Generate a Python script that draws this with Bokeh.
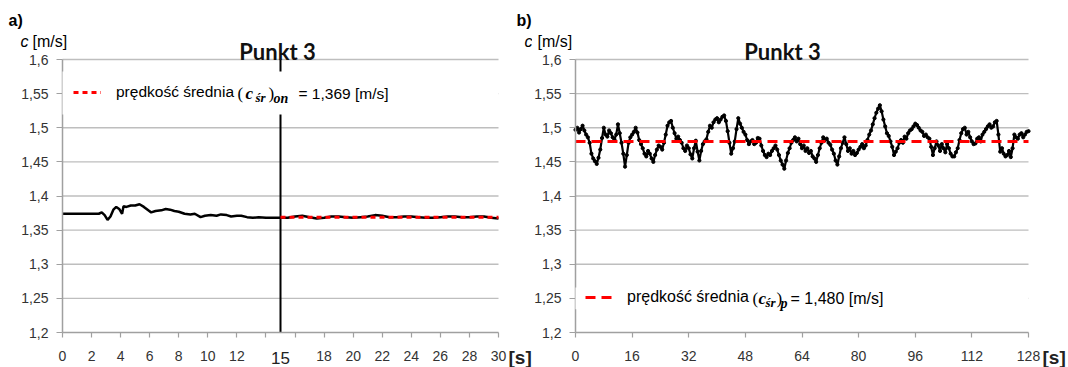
from bokeh.plotting import figure
from bokeh.layouts import row
from bokeh.models import FixedTicker, BoxAnnotation, Label, Legend, LegendItem, Range1d, LinearAxis
from bokeh.embed import file_html
from bokeh.resources import INLINE

# ---------------- data ----------------
t_a = [0, 0.5, 1, 1.5, 2, 2.5, 2.7, 2.9, 3.1, 3.3,
       3.5, 3.7, 3.9, 4.1, 4.2, 4.4, 4.7, 5.0, 5.3, 5.6,
       5.9, 6.1, 6.4, 6.8, 7.1, 7.4, 7.7, 8.0, 8.4, 8.8,
       9.1, 9.5, 9.8, 10.2, 10.6, 10.9, 11.3, 11.6, 12.0, 12.3,
       12.7, 13.1, 13.5, 14.0, 14.5, 15.0, 15.5, 16.0, 16.5, 17.0,
       17.5, 18.0, 18.5, 19.0, 19.5, 20.0, 20.5, 21.0, 21.5, 22.0,
       22.5, 23.0, 23.5, 24.0, 24.5, 25.0, 25.5, 26.0, 26.5, 27.0,
       27.5, 28.0, 28.5, 29.0, 29.5, 30.0]
c_a = [1.374, 1.374, 1.374, 1.374, 1.374, 1.374, 1.376, 1.372, 1.365, 1.370,
       1.380, 1.384, 1.381, 1.374, 1.385, 1.384, 1.386, 1.386, 1.388, 1.384,
       1.379, 1.376, 1.378, 1.379, 1.381, 1.380, 1.378, 1.377, 1.374, 1.373,
       1.374, 1.369, 1.371, 1.372, 1.371, 1.373, 1.372, 1.370, 1.371, 1.371,
       1.369, 1.368, 1.369, 1.368, 1.368, 1.368, 1.368, 1.370, 1.371, 1.369,
       1.367, 1.368, 1.370, 1.370, 1.369, 1.368, 1.369, 1.370, 1.372, 1.371,
       1.369, 1.369, 1.370, 1.370, 1.369, 1.368, 1.368, 1.369, 1.370, 1.370,
       1.369, 1.369, 1.370, 1.370, 1.368, 1.367]
mean_a_t = [15, 30]
mean_a = 1.369
split_a = 15

t_b = [k / 2 for k in range(0, 257)]   # sampling every 0.5 s
c_b = [1.497, 1.500, 1.493, 1.498, 1.503, 1.496, 1.490, 1.486, 1.478, 1.462,
       1.455, 1.451, 1.447, 1.456, 1.468, 1.485, 1.500, 1.490, 1.487, 1.496,
       1.492, 1.486, 1.483, 1.490, 1.505, 1.492, 1.478, 1.462, 1.443, 1.460,
       1.478, 1.486, 1.490, 1.494, 1.500, 1.493, 1.482, 1.476, 1.470, 1.462,
       1.458, 1.466, 1.462, 1.455, 1.450, 1.460, 1.468, 1.474, 1.472, 1.468,
       1.478, 1.490, 1.503, 1.508, 1.510, 1.500, 1.492, 1.484, 1.487, 1.482,
       1.478, 1.470, 1.466, 1.474, 1.470, 1.461, 1.455, 1.470, 1.481, 1.465,
       1.452, 1.466, 1.476, 1.480, 1.483, 1.494, 1.503, 1.500, 1.508, 1.512,
       1.514, 1.508, 1.512, 1.516, 1.518, 1.510, 1.495, 1.478, 1.462, 1.470,
       1.480, 1.498, 1.514, 1.506, 1.500, 1.494, 1.490, 1.482, 1.476, 1.480,
       1.482, 1.476, 1.478, 1.485, 1.484, 1.474, 1.466, 1.460, 1.457, 1.462,
       1.460, 1.466, 1.470, 1.474, 1.468, 1.460, 1.452, 1.446, 1.440, 1.452,
       1.463, 1.470, 1.478, 1.482, 1.486, 1.480, 1.484, 1.476, 1.470, 1.474,
       1.466, 1.470, 1.463, 1.466, 1.458, 1.455, 1.450, 1.460, 1.470, 1.478,
       1.486, 1.482, 1.484, 1.478, 1.475, 1.468, 1.462, 1.452, 1.446, 1.458,
       1.470, 1.478, 1.486, 1.476, 1.466, 1.470, 1.462, 1.466, 1.460, 1.463,
       1.468, 1.472, 1.476, 1.470, 1.474, 1.482, 1.490, 1.496, 1.505, 1.514,
       1.522, 1.528, 1.533, 1.524, 1.512, 1.502, 1.492, 1.488, 1.480, 1.472,
       1.460, 1.465, 1.470, 1.478, 1.482, 1.478, 1.487, 1.484, 1.492, 1.496,
       1.498, 1.502, 1.506, 1.504, 1.500, 1.496, 1.494, 1.488, 1.490, 1.486,
       1.484, 1.472, 1.460, 1.470, 1.480, 1.474, 1.466, 1.476, 1.470, 1.464,
       1.476, 1.470, 1.462, 1.458, 1.458, 1.464, 1.470, 1.482, 1.492, 1.498,
       1.500, 1.490, 1.494, 1.486, 1.480, 1.476, 1.477, 1.484, 1.486, 1.480,
       1.490, 1.494, 1.498, 1.502, 1.505, 1.500, 1.502, 1.508, 1.510, 1.490,
       1.465, 1.470, 1.462, 1.458, 1.460, 1.466, 1.457, 1.470, 1.490, 1.486,
       1.484, 1.490, 1.492, 1.486, 1.490, 1.494, 1.495]
mean_b_t = [0, 128]
mean_b = 1.480

y_lim = [1.2, 1.6]
y_ticks = [1.2, 1.25, 1.3, 1.35, 1.4, 1.45, 1.5, 1.55, 1.6]
y_tick_labels = ["1,2", "1,25", "1,3", "1,35", "1,4", "1,45", "1,5", "1,55", "1,6"]
x_lim_a = [0, 30]
x_ticks_a = [0, 2, 4, 6, 8, 10, 12, 14, 16, 18, 20, 22, 24, 26, 28, 30]
x_tick_labels_a = ["0", "2", "4", "6", "8", "10", "12", "", "", "18", "20", "22", "24", "26", "28", "30"]
x_lim_b = [0, 128]
x_ticks_b = [0, 16, 32, 48, 64, 80, 96, 112, 128]
x_tick_labels_b = ["0", "16", "32", "48", "64", "80", "96", "112", "128"]

title_text = "Punkt 3"
legend_a = ["prędkość średnia", "(", "c", "śr", ")", "on", "= 1,369 [m/s]"]
legend_b = ["prędkość średnia", "(", "c", "śr", ")", "p", "= 1,480 [m/s]"]

SANS = "Liberation Sans"
SERIF = "Liberation Serif"
GRID = "#BEBEBE"
AXIS = "#A0A0A0"
TXT = "#333333"
RED = "#FF0000"
H = 367
PLOT_BOTTOM = 35      # px of plotting area bottom from canvas bottom
PLOT_TOP = 308        # px of plotting area top from canvas bottom


def span_range(px_lo, px_hi, v_lo, v_hi, total):
    s = (v_hi - v_lo) / (px_hi - px_lo)
    return Range1d(v_lo - px_lo * s, v_lo + (total - px_lo) * s)


def make_fig(width, xlim, px_left, px_right, xt, xl):
    p = figure(width=width, height=H,
               x_range=span_range(px_left, px_right, xlim[0], xlim[1], width),
               y_range=span_range(PLOT_BOTTOM, PLOT_TOP, y_lim[0], y_lim[1], H),
               output_backend="svg", toolbar_location=None,
               x_axis_location=None, y_axis_location=None,
               min_border=0)
    p.outline_line_color = None
    p.background_fill_color = "white"
    p.border_fill_color = "white"
    p.grid.visible = False
    # horizontal grid lines across the plotting area only
    p.segment(x0=xlim[0], x1=xlim[1], y0=y_ticks[1:], y1=y_ticks[1:],
              line_color=GRID, line_width=1.3)
    yax = LinearAxis(fixed_location=xlim[0], bounds=tuple(y_lim),
                     ticker=FixedTicker(ticks=y_ticks),
                     major_label_overrides=dict(zip(y_ticks, y_tick_labels)))
    xax = LinearAxis(fixed_location=y_lim[0], bounds=tuple(xlim),
                     ticker=FixedTicker(ticks=xt),
                     major_label_overrides=dict(zip(xt, xl)))
    for ax in (xax, yax):
        ax.axis_line_color = AXIS
        ax.axis_line_width = 1.5
        ax.major_tick_line_color = AXIS
        ax.major_tick_line_width = 1.2
        ax.major_tick_in = 0
        ax.minor_tick_line_color = None
        ax.major_label_text_font = SANS
        ax.major_label_text_font_size = "14px"
        ax.major_label_text_color = TXT
    yax.major_tick_out = 6
    yax.major_label_standoff = 8
    xax.major_tick_out = 5
    xax.major_label_standoff = 13
    p.add_layout(yax, "left")
    p.add_layout(xax, "below")
    return p


def lab(p, x, y, text, size, font=SANS, style="normal", align="left",
        baseline="middle", color="black", x_units="screen"):
    p.add_layout(Label(x=x, y=y, x_units=x_units, y_units="screen", text=text,
                       text_font=font, text_font_size=size, text_font_style=style,
                       text_align=align, text_baseline=baseline, text_color=color))


def add_legend(p, rend, loc, standoff, size, parts, xs, ys):
    leg = Legend(items=[LegendItem(label=parts[0], renderers=[rend])], location=loc,
                 glyph_width=28, glyph_height=16, label_height=16, label_standoff=standoff,
                 padding=0, margin=0, spacing=0, border_line_alpha=0, background_fill_alpha=0,
                 label_text_font=SANS, label_text_font_size=size, label_text_color="black")
    p.add_layout(leg)
    main_y, sub_y = ys
    lab(p, xs[0], main_y, parts[1], "17px", font=SERIF)
    lab(p, xs[1], main_y, parts[2], "17px", font=SERIF, style="bold italic")
    lab(p, xs[2], sub_y, parts[3], "13px", font=SERIF, style="bold italic")
    lab(p, xs[3], main_y, parts[4], "17px", font=SERIF)
    lab(p, xs[4], sub_y - 1, parts[5], "14px", font=SERIF, style="bold italic")
    lab(p, xs[5], main_y, parts[6], size)


# ---------------- panel a ----------------
pa = make_fig(532, x_lim_a, 62, 498, x_ticks_a, x_tick_labels_a)
pa.segment(x0=split_a, x1=split_a, y0=y_lim[0], y1=y_lim[1], line_color="black", line_width=2)
pa.line(t_a, c_a, line_color="black", line_width=2.5)
mean_ra = pa.line(mean_a_t, [mean_a, mean_a], line_color=RED, line_width=3, line_dash="5 4")
pa.add_layout(BoxAnnotation(left=x_lim_a[0], right=x_lim_a[1], bottom=1.5194, top=1.5824,
                            fill_color="white", fill_alpha=1, line_alpha=0))
add_legend(pa, mean_ra, (73, 266), 15, "15.5px", legend_a,
           [237, 245, 255, 268, 273, 298], (274, 270))

lab(pa, 8, 347, "a)", "16px", style="bold")
lab(pa, 20, 326, "c", "16px", style="italic")
lab(pa, 32, 326, "[m/s]", "16px")
lab(pa, 277, 316, title_text, "22px", font="Lato", style="bold", align="center",
    baseline="alphabetic", color="#111111")
lab(pa, split_a, 10, "15", "17px", align="center", color="#222222", x_units="data")
lab(pa, 508, 10, "[s]", "19px", style="bold", color="#222222")
# labels of panel b that fall left of its canvas
lab(pa, 516, 347, "b)", "16px", style="bold")
lab(pa, 524, 326, "c", "16px", style="italic")

# ---------------- panel b ----------------
pb = make_fig(536, x_lim_b, 43, 496, x_ticks_b, x_tick_labels_b)
pb.line(t_b, c_b, line_color="black", line_width=2.2)
pb.scatter(t_b, c_b, size=3.2, color="black")
mean_rb = pb.line(mean_b_t, [mean_b, mean_b], line_color=RED, line_width=3, line_dash="10 6")
pb.add_layout(BoxAnnotation(left=x_lim_b[0], right=x_lim_b[1], bottom=1.234, top=1.266,
                            fill_color="white", fill_alpha=1, line_alpha=0))
add_legend(pb, mean_rb, (53, 61), 14, "16px", legend_b,
           [220, 226, 233, 244, 248, 258], (69, 65))

lab(pb, 5, 326, "[m/s]", "16px")
lab(pb, 250, 316, title_text, "22px", font="Lato", style="bold", align="center",
    baseline="alphabetic", color="#111111")
lab(pb, 510, 10, "[s]", "19px", style="bold", color="#222222")

layout = row(pa, pb, spacing=0)
open("out.html", "w").write(file_html(layout, INLINE))
